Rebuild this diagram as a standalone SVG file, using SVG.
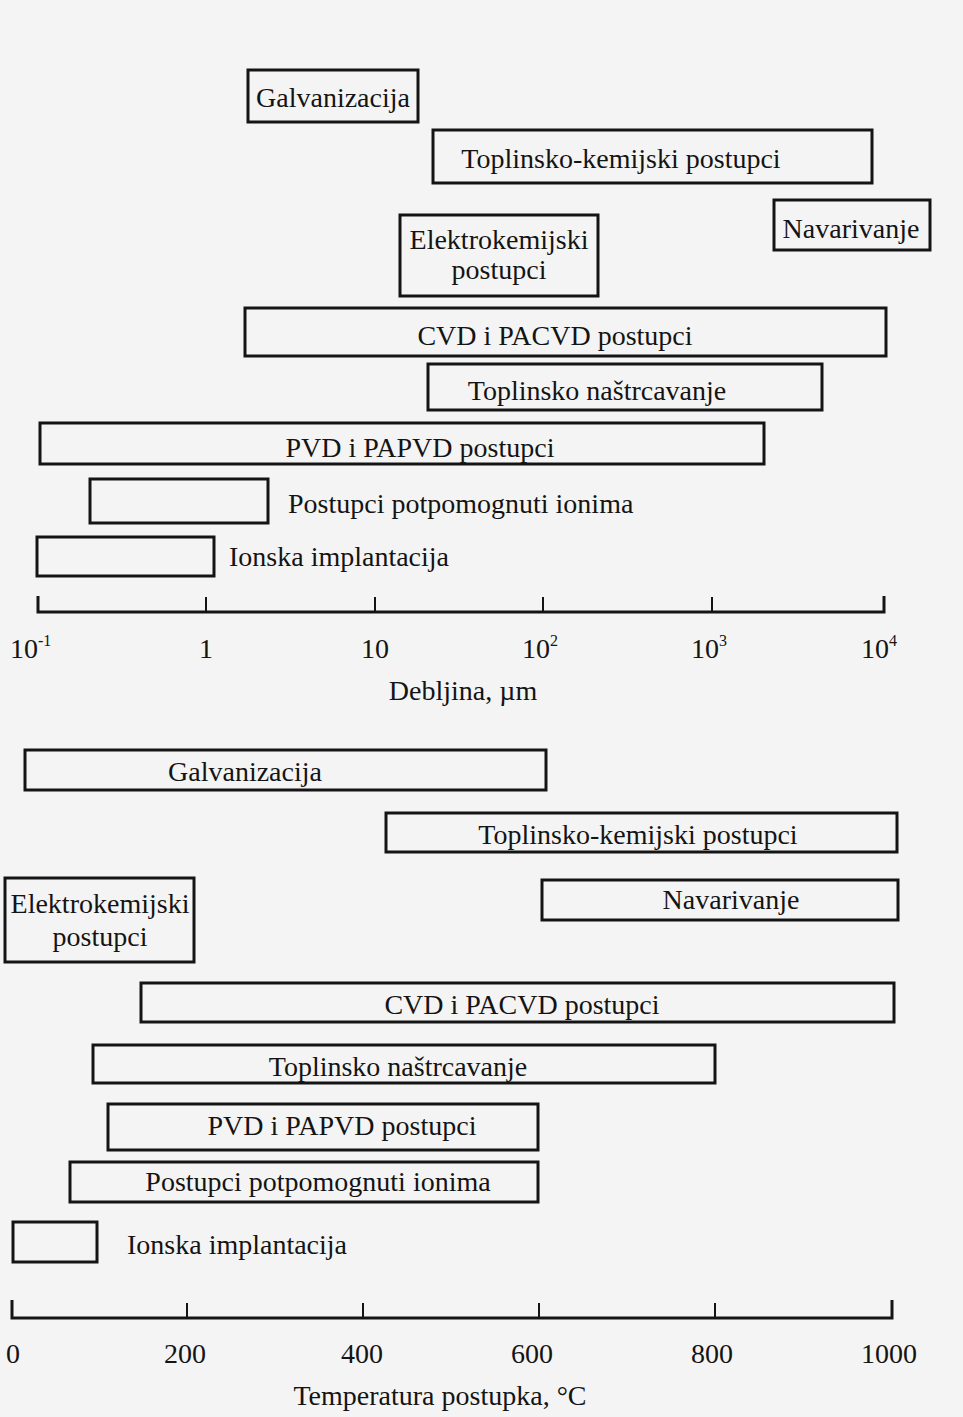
<svg xmlns="http://www.w3.org/2000/svg" width="963" height="1417" viewBox="0 0 963 1417">
<style>
.bg{fill:#f4f4f4}
.box{fill:none;stroke:#141414;stroke-width:3}
.t{font-family:"Liberation Serif","Times New Roman",serif;font-size:28px;fill:#141414}
.m{text-anchor:middle}
.ax{fill:none;stroke:#141414;stroke-width:3}
.tk{stroke:#141414;stroke-width:2}
.sup{font-size:16px}
</style>
<rect class="bg" x="0" y="0" width="963" height="1417"/>

<!-- Top chart: thickness -->
<g id="top-galvanizacija"><rect class="box" x="248" y="70" width="170" height="52"/><text class="t m" x="333" y="107">Galvanizacija</text></g>
<g id="top-toplinsko-kemijski"><rect class="box" x="433" y="130" width="439" height="53"/><text class="t m" x="621" y="168">Toplinsko-kemijski postupci</text></g>
<g id="top-navarivanje"><rect class="box" x="774" y="200" width="156" height="50"/><text class="t m" x="851" y="238">Navarivanje</text></g>
<g id="top-elektrokemijski"><rect class="box" x="400" y="215" width="198" height="81"/><text class="t m" x="499" y="249">Elektrokemijski</text><text class="t m" x="499" y="279">postupci</text></g>
<g id="top-cvd"><rect class="box" x="245" y="308" width="641" height="48"/><text class="t m" x="555" y="345">CVD i PACVD postupci</text></g>
<g id="top-naštrcavanje"><rect class="box" x="428" y="364" width="394" height="46"/><text class="t m" x="597" y="400">Toplinsko naštrcavanje</text></g>
<g id="top-pvd"><rect class="box" x="40" y="423" width="724" height="41"/><text class="t m" x="420" y="457">PVD i PAPVD postupci</text></g>
<g id="top-ionima"><rect class="box" x="90" y="479" width="178" height="44"/><text class="t" x="288" y="513">Postupci potpomognuti ionima</text></g>
<g id="top-implantacija"><rect class="box" x="37" y="537" width="177" height="39"/><text class="t" x="229" y="566">Ionska implantacija</text></g>

<g id="top-axis">
<polyline class="ax" points="38,596 38,612 884,612 884,596"/>
<line class="tk" x1="206" y1="597" x2="206" y2="612"/>
<line class="tk" x1="375" y1="597" x2="375" y2="612"/>
<line class="tk" x1="543" y1="597" x2="543" y2="612"/>
<line class="tk" x1="712" y1="597" x2="712" y2="612"/>
<text class="t" x="10" y="658">10<tspan class="sup" dy="-12">-1</tspan></text>
<text class="t m" x="206" y="658">1</text>
<text class="t m" x="375" y="658">10</text>
<text class="t" x="522" y="658">10<tspan class="sup" dy="-12">2</tspan></text>
<text class="t" x="691" y="658">10<tspan class="sup" dy="-12">3</tspan></text>
<text class="t" x="861" y="658">10<tspan class="sup" dy="-12">4</tspan></text>
<text class="t m" x="463" y="700">Debljina, µm</text>
</g>

<!-- Bottom chart: temperature -->
<g id="bot-galvanizacija"><rect class="box" x="25" y="750" width="521" height="40"/><text class="t m" x="245" y="781">Galvanizacija</text></g>
<g id="bot-toplinsko-kemijski"><rect class="box" x="386" y="813" width="511" height="39"/><text class="t m" x="638" y="844">Toplinsko-kemijski postupci</text></g>
<g id="bot-elektrokemijski"><rect class="box" x="5" y="878" width="189" height="84"/><text class="t m" x="100" y="913">Elektrokemijski</text><text class="t m" x="100" y="946">postupci</text></g>
<g id="bot-navarivanje"><rect class="box" x="542" y="880" width="356" height="40"/><text class="t m" x="731" y="909">Navarivanje</text></g>
<g id="bot-cvd"><rect class="box" x="141" y="983" width="753" height="39"/><text class="t m" x="522" y="1014">CVD i PACVD postupci</text></g>
<g id="bot-naštrcavanje"><rect class="box" x="93" y="1045" width="622" height="38"/><text class="t m" x="398" y="1076">Toplinsko naštrcavanje</text></g>
<g id="bot-pvd"><rect class="box" x="108" y="1104" width="430" height="46"/><text class="t m" x="342" y="1135">PVD i PAPVD postupci</text></g>
<g id="bot-ionima"><rect class="box" x="70" y="1162" width="468" height="40"/><text class="t m" x="318" y="1191">Postupci potpomognuti ionima</text></g>
<g id="bot-implantacija"><rect class="box" x="13" y="1222" width="84" height="40"/><text class="t" x="127" y="1254">Ionska implantacija</text></g>

<g id="bot-axis">
<polyline class="ax" points="12,1300 12,1318 892,1318 892,1300"/>
<line class="tk" x1="187" y1="1303" x2="187" y2="1318"/>
<line class="tk" x1="363" y1="1303" x2="363" y2="1318"/>
<line class="tk" x1="539" y1="1303" x2="539" y2="1318"/>
<line class="tk" x1="715" y1="1303" x2="715" y2="1318"/>
<text class="t m" x="13" y="1363">0</text>
<text class="t m" x="185" y="1363">200</text>
<text class="t m" x="362" y="1363">400</text>
<text class="t m" x="532" y="1363">600</text>
<text class="t m" x="712" y="1363">800</text>
<text class="t m" x="889" y="1363">1000</text>
<text class="t m" x="440" y="1405">Temperatura postupka, °C</text>
</g>
</svg>
